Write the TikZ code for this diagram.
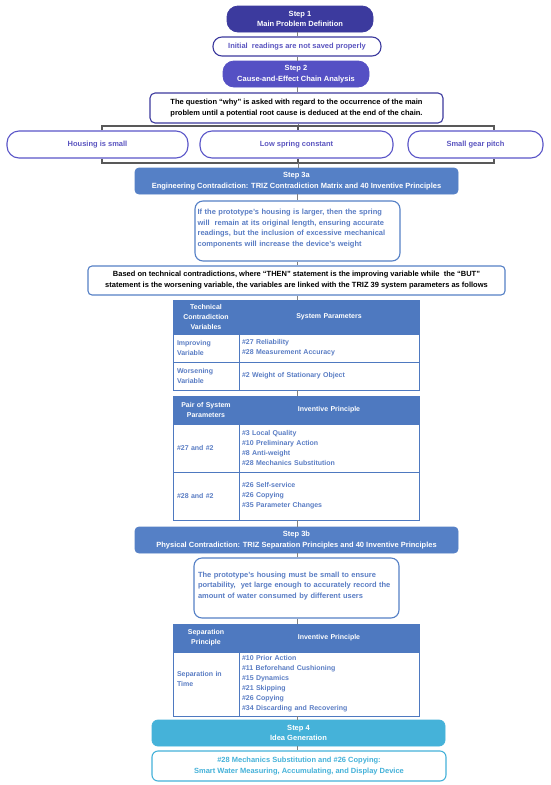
\documentclass[tikz,border=0pt]{standalone}
\usepackage{fontspec}
\setmainfont{Liberation Sans}
\definecolor{cStepA}{HTML}{3C3A9E}
\definecolor{cStepB}{HTML}{5550C4}
\definecolor{cPurTxt}{HTML}{5B55C0}
\definecolor{cPurBrd}{HTML}{5A55C8}
\definecolor{cBlue}{HTML}{5580C6}
\definecolor{cBlueTxt}{HTML}{5A7DC4}
\definecolor{cTab}{HTML}{4E79C0}
\definecolor{cCyan}{HTML}{45B2D9}
\definecolor{cLine}{HTML}{808080}
\definecolor{cBrk}{HTML}{595959}
\begin{document}
\begin{tikzpicture}[x=1pt,y=-1pt,
  every node/.style={font=\bfseries\fontsize{7.5}{10.7}\selectfont, inner sep=0pt, align=center},
  stepbox/.style={text=white, line width=0.8pt},
  outbox/.style={fill=white, line width=1.1pt},
  conn/.style={draw=cLine, line width=0.8pt},
  brk/.style={draw=cBrk, line width=1.1pt},
  tfont/.style={font=\bfseries\fontsize{7}{10}\selectfont},
  thead/.style={tfont, draw=cTab, fill=cTab, text=white, line width=0.8pt},
  tcell/.style={tfont, draw=cTab, fill=white, text=cBlueTxt, line width=0.8pt, align=left},
  lcol/.style={minimum width=66pt, text width=58pt, inner xsep=4pt},
  rcol/.style={minimum width=180pt, text width=174pt, inner xsep=3pt},
  lhead/.style={minimum width=66pt, text width=64pt, inner xsep=1pt},
  rhead/.style={minimum width=180pt, text width=176pt, inner xsep=2pt}
]
\useasboundingbox (0,0) rectangle (550,785);
\fill[white] (0,0) rectangle (550,785);
\coordinate (ax) at (297,0);

% Step 1 and 2
\node[stepbox, fill=cStepA, draw=cStepA, rounded corners=11pt, minimum width=146pt, minimum height=26pt] (s1) at (300,19) {Step 1\\Main Problem Definition};
\node[outbox, draw=cStepA, text=cPurTxt, rounded corners=9pt, minimum width=168pt, minimum height=19pt] (b1) at (297,46.5) {Initial\ \ readings are not saved properly};
\node[stepbox, fill=cStepB, draw=cStepB, rounded corners=11pt, minimum width=146pt, minimum height=26pt] (s2) at (296,74) {Step 2\\Cause-and-Effect Chain Analysis};
\node[outbox, draw=cStepA, text=black, rounded corners=5pt, minimum width=293pt, minimum height=30pt] (q) at (296.5,108) {The question “why” is asked with regard to the occurrence of the main\\problem until a potential root cause is deduced at the end of the chain.};

% three causes
\node[outbox, draw=cPurBrd, text=cPurTxt, rounded corners=12pt, minimum width=181pt, minimum height=27pt] (h1) at (97.5,144.5) {Housing is small};
\node[outbox, draw=cPurBrd, text=cPurTxt, rounded corners=12pt, minimum width=193pt, minimum height=27pt] (h2) at (296.5,144.5) {Low spring constant};
\node[outbox, draw=cPurBrd, text=cPurTxt, rounded corners=12pt, minimum width=135pt, minimum height=27pt] (h3) at (475.5,144.5) {Small gear pitch};

% Step 3a
\node[stepbox, fill=cBlue, draw=cBlue, rounded corners=4pt, minimum width=323pt, minimum height=26pt] (s3a) at (296.5,181) {Step 3a\\Engineering Contradiction: TRIZ Contradiction Matrix and 40 Inventive Principles};
\node[outbox, draw=cBlue, rounded corners=8pt, minimum width=205pt, minimum height=60pt] (b3a) at (297.5,231) {};
\node[anchor=north west, text=cBlueTxt, align=left, text width=200pt] (b3at) at ([xshift=3pt,yshift=-8.5pt]b3a.north west) {If the prototype’s housing is larger, then the spring\\will\ \ remain at its original length, ensuring accurate\\readings, but the inclusion of excessive mechanical\\components will increase the device’s weight};
\node[outbox, draw=cBlue, text=black, rounded corners=4pt, minimum width=417pt, minimum height=29pt] (based) at (296.5,280.5) {Based on technical contradictions, where “THEN” statement is the improving variable while\ \ the “BUT”\\statement is the worsening variable, the variables are linked with the TRIZ 39 system parameters as follows\rule[-3pt]{0pt}{0pt}};

% Table 1
\node[thead, lhead, minimum height=34pt] (t1hA) at (206,317) {Technical\\Contradiction\\Variables};
\node[thead, rhead, minimum height=34pt] (t1hB) at (329,317) {System Parameters};
\node[tcell, lcol, minimum height=28pt] (t1aA) at (206,348) {Improving\\Variable};
\node[tcell, rcol, minimum height=28pt] (t1aB) at (329,348) {\#27 Reliability\\\#28 Measurement Accuracy};
\node[tcell, lcol, minimum height=28pt] (t1bA) at (206,376) {Worsening\\Variable};
\node[tcell, rcol, minimum height=28pt] (t1bB) at (329,376) {\#2 Weight of Stationary Object};

% Table 2
\node[thead, lhead, minimum height=28pt] (t2hA) at (206,410) {Pair of System\\Parameters};
\node[thead, rhead, minimum height=28pt] (t2hB) at (329,410) {Inventive Principle};
\node[tcell, lcol, minimum height=48pt] (t2aA) at (206,448) {\#27 and \#2};
\node[tcell, rcol, minimum height=48pt] (t2aB) at (329,448) {\#3 Local Quality\\\#10 Preliminary Action\\\#8 Anti-weight\\\#28 Mechanics Substitution};
\node[tcell, lcol, minimum height=48pt] (t2bA) at (206,496) {\#28 and \#2};
\node[tcell, rcol, minimum height=48pt] (t2bB) at (329,496) {\#26 Self-service\\\#26 Copying\\\#35 Parameter Changes};

% Step 3b
\node[stepbox, fill=cBlue, draw=cBlue, rounded corners=4pt, minimum width=323pt, minimum height=26pt] (s3b) at (296.5,540) {Step 3b\\Physical Contradiction: TRIZ Separation Principles and 40 Inventive Principles};
\node[outbox, draw=cBlue, text=cBlueTxt, rounded corners=8pt, minimum width=205pt, minimum height=60pt, text width=197pt, inner xsep=4pt, align=left] (b3b) at (296.5,588) {The prototype’s housing must be small to ensure\\portability,\ \ yet large enough to accurately record the\\amount of water consumed by different users\rule[-6pt]{0pt}{0pt}};

% Table 3
\node[thead, lhead, minimum height=28pt] (t3hA) at (206,638) {Separation\\Principle};
\node[thead, rhead, minimum height=28pt] (t3hB) at (329,638) {Inventive Principle};
\node[tcell, rcol, minimum height=64pt] (t3aB) at (329,684) {\#10 Prior Action\\\#11 Beforehand Cushioning\\\#15 Dynamics\\\#21 Skipping\\\#26 Copying\\\#34 Discarding and Recovering};
\node[tcell, lcol, minimum height=64pt] (t3aA) at (206,684) {Separation in\\Time\rule[-10pt]{0pt}{0pt}};

% Step 4
\node[stepbox, fill=cCyan, draw=cCyan, rounded corners=6pt, minimum width=293pt, minimum height=26pt] (s4) at (298.5,733) {Step 4\\Idea Generation};
\node[outbox, draw=cCyan, text=cCyan, rounded corners=6pt, minimum width=294pt, minimum height=30pt] (fin) at (299,766) {\#28 Mechanics Substitution and \#26 Copying:\\Smart Water Measuring, Accumulating, and Display Device};

% connectors
\draw[conn] (b1.north -| ax) -- (s1.south -| ax);
\draw[conn] (b1.south -| ax) -- (s2.north -| ax);
\draw[conn] (s2.south -| ax) -- (q.north -| ax);
\coordinate (bt) at (298,126);
\coordinate (btl) at (102,126);
\coordinate (btr) at (494,126);
\coordinate (bb) at (298,163);
\coordinate (bbl) at (102,163);
\coordinate (bbr) at (494,163);
\draw[conn] (q.south -| bt) -- (bt);
\draw[brk] (btl |- h1.north) -- (btl) -- (btr) -- (btr |- h3.north);
\draw[brk] (bt) -- (bt |- h2.north);
\draw[brk] (bbl |- h1.south) -- (bbl) -- (bbr) -- (bbr |- h3.south);
\draw[brk] (bb |- h2.south) -- (bb);
\draw[conn] (bb) -- (bb |- s3a.north);
\draw[conn] (s3a.south -| ax) -- (b3a.north -| ax);
\draw[conn] (b3a.south -| ax) -- (based.north -| ax);
\draw[conn] (based.south -| ax) -- (t1hB.north -| ax);
\draw[conn] (t1bB.south -| ax) -- (t2hB.north -| ax);
\draw[conn] (t2bB.south -| ax) -- (s3b.north -| ax);
\draw[conn] (s3b.south -| ax) -- (b3b.north -| ax);
\draw[conn] (b3b.south -| ax) -- (t3hB.north -| ax);
\draw[conn] (t3aB.south -| ax) -- (s4.north -| ax);
\draw[conn] (s4.south -| ax) -- (fin.north -| ax);
\end{tikzpicture}
\end{document}
